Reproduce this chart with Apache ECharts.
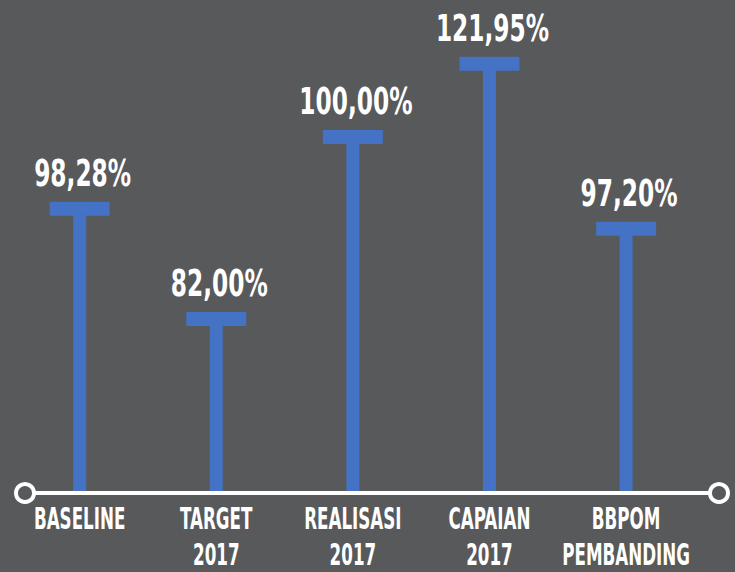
<!DOCTYPE html>
<html>
<head>
<meta charset="utf-8">
<script src="https://cdn.jsdelivr.net/npm/echarts@6/dist/echarts.min.js"></script>
<style>
  html, body { margin: 0; padding: 0; background: #58595b; }
  #chart { width: 735px; height: 572px; }
</style>
</head>
<body>
<div id="chart"></div>
<script>
// ---- data ----
const categories = ['BASELINE', 'TARGET\n2017', 'REALISASI\n2017', 'CAPAIAN\n2017', 'BBPOM\nPEMBANDING'];
const values = [98.28, 82.00, 100.00, 121.95, 97.20];
const valueLabels = ['98,28%', '82,00%', '100,00%', '121,95%', '97,20%'];
// heights of the "T" marks as drawn in the infographic (not to scale with the values),
// expressed on the scale where CAPAIAN 2017 = 121.95
const drawnHeights = [81.4, 50.6, 101.5, 121.95, 75.8];

// ---- styling ----
const BG = '#58595b';
const BLUE = '#4472c4';
const FONT_FAMILY = '"DejaVu Sans Condensed", "DejaVu Sans", sans-serif';
const X_MIN = -0.4, X_MAX = 4.68;

const chart = echarts.init(document.getElementById('chart'), null, { renderer: 'svg' });

chart.setOption({
  backgroundColor: BG,
  animation: false,
  grid: { left: 25, right: 16, top: 28, bottom: 79 },
  xAxis: {
    type: 'value',
    min: X_MIN,
    max: X_MAX,
    axisLine: { show: true, lineStyle: { color: '#ffffff', width: 4 } },
    axisTick: { show: false },
    axisLabel: { show: false },
    splitLine: { show: false }
  },
  yAxis: {
    type: 'value',
    min: 0,
    max: 130,
    show: false,
    splitLine: { show: false }
  },
  series: [
    {
      type: 'custom',
      name: 'T',
      clip: false,
      data: categories.map((c, i) => [i, drawnHeights[i], values[i]]),
      renderItem: function (params, api) {
        const idx = params.dataIndex;
        const top = api.coord([api.value(0), api.value(1)]);
        const base = api.coord([api.value(0), 0]);
        const capW = 60, capH = 14, stemW = 13;
        return {
          type: 'group',
          children: [
            {
              type: 'rect',
              shape: { x: top[0] - stemW / 2, y: top[1] + capH - 1, width: stemW, height: (base[1] - 2) - (top[1] + capH - 1) },
              style: { fill: BLUE }
            },
            {
              type: 'rect',
              shape: { x: top[0] - capW / 2, y: top[1], width: capW, height: capH },
              style: { fill: BLUE }
            },
            {
              type: 'text',
              x: top[0] + 3,
              y: top[1] - 29,
              scaleX: 0.7,
              style: {
                text: valueLabels[idx],
                font: 'bold 37px ' + FONT_FAMILY,
                fill: '#ffffff',
                align: 'center',
                verticalAlign: 'middle'
              }
            },
            {
              type: 'text',
              x: base[0],
              y: base[1] + 8,
              scaleX: 0.62,
              style: {
                text: categories[idx],
                font: 'bold 30px ' + FONT_FAMILY,
                lineHeight: 36,
                fill: '#ffffff',
                align: 'center',
                verticalAlign: 'top'
              }
            }
          ]
        };
      }
    },
    {
      type: 'scatter',
      name: 'axisEnds',
      clip: false,
      silent: true,
      symbol: 'circle',
      symbolSize: 18,
      itemStyle: { color: BG, borderColor: '#ffffff', borderWidth: 4, opacity: 1 },
      data: [[X_MIN, 0], [X_MAX, 0]],
      z: 5
    }
  ]
});
</script>
</body>
</html>
